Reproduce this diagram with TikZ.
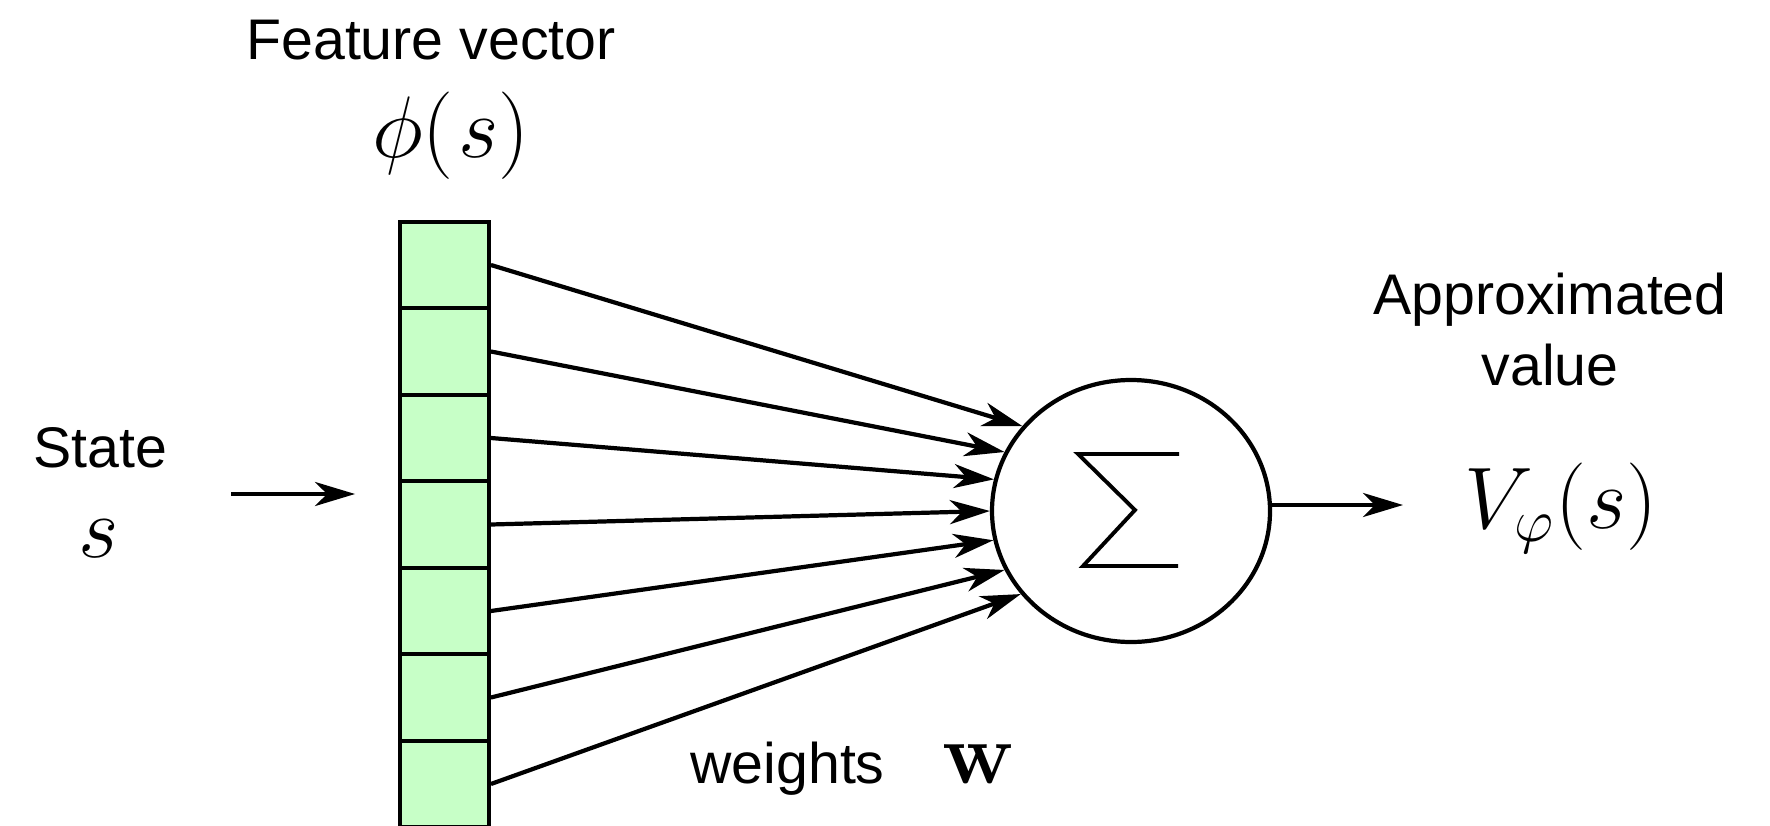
\documentclass[tikz,border=0pt]{standalone}
\usepackage[no-math]{fontspec}
\newfontfamily\arialfont{Liberation Sans}
\usetikzlibrary{arrows.meta,shapes.geometric}
\definecolor{cellgreen}{RGB}{199,255,199}

\begin{document}
\begin{tikzpicture}[
  cell/.style={draw,fill=cellgreen,line width=1.1pt,minimum width=0.89cm,minimum height=0.865cm,inner sep=0pt},
  arr/.style={line width=1.2pt,-{Stealth[length=4mm,width=2.4mm,inset=1.2mm]}},
  lbl/.style={font=\arialfont\fontsize{16.3}{20.2}\selectfont},
  mth/.style={font=\fontsize{25}{29}\selectfont}]
\useasboundingbox (0,0) rectangle (17.7,8.25);
\clip (0,0) rectangle (17.7,8.25);

% feature vector column
\foreach \i in {1,...,7}
  \node[cell] (c\i) at (4.445,{5.60-0.865*(\i-1)}) {};
\node[lbl,anchor=base] (fvtitle) at (4.31,7.65) {Feature vector};
\node[mth,anchor=base] (phi) at (4.51,6.68) {$\phi(\mkern1mu s)$};

% input
\node[lbl,anchor=base] (statetxt) at (1.00,3.58) {State};
\node[mth,anchor=base] (s) at (0.99,2.68) {$s$};
\coordinate (in) at (2.31,3.31);
\draw[arr,shorten >=4.3mm] (in) -- (in -| c4.west);

% summing unit
\node[draw,ellipse,line width=1.2pt,minimum width=2.78cm,minimum height=2.62cm,inner sep=0pt] (sum) at (11.31,3.14) {};
\draw[line width=1.1pt] (sum.center) ++(0.48,0.57) -- ++(-1.01,0) -- ++(0.57,-0.56) -- ++(-0.52,-0.56) -- ++(0.95,0);

% weighted connections
\foreach \i [evaluate=\i as \a using 142.5+12.5*(\i-1)] in {1,...,7}
  \draw[arr] (c\i.east) -- (sum.\a);
\node[lbl,anchor=base] (wtxt) at (7.875,0.42) {weights};
\node[mth,anchor=base] (w) at (9.79,0.42) {$\mathbf{w}$};

% output
\node[lbl,align=center] (approx) at (15.50,4.95) {Approximated\\value};
\node[mth,anchor=base west,inner sep=0pt] (vout) at (14.64,2.97) {$V_\varphi(s)$};
\draw[arr,shorten >=6.1mm] ([yshift=0.6mm]sum.east) -- ([yshift=0.6mm]sum.east -| vout.west);
\end{tikzpicture}
\end{document}
